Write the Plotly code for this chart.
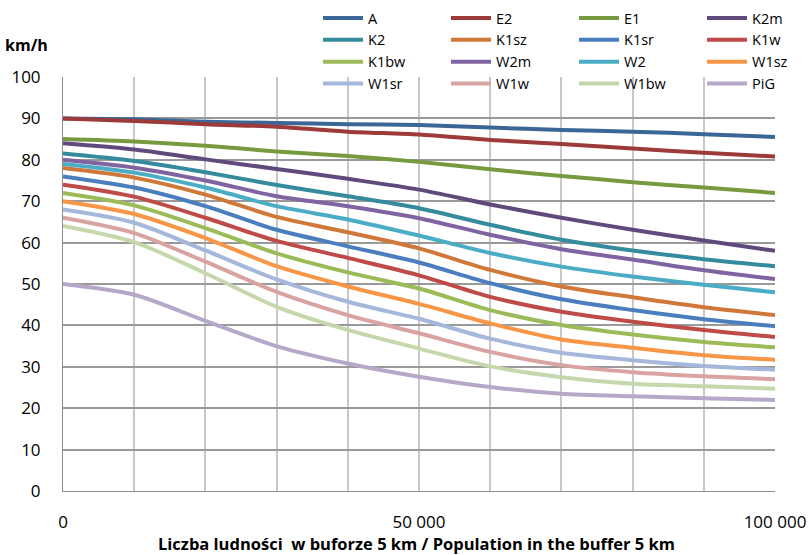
import plotly.graph_objects as go

x_vals = [0, 10000, 20000, 30000, 40000, 50000, 60000, 70000, 80000, 90000, 100000]

names = ["A", "E2", "E1", "K2m", "K2", "K1sz", "K1sr", "K1w",
         "K1bw", "W2m", "W2", "W1sz", "W1sr", "W1w", "W1bw", "PiG"]

A = [90, 89.8, 89.2, 88.9, 88.6, 88.4, 87.8, 87.2, 86.8, 86.2, 85.5]
E2 = [90, 89.4, 88.6, 88.0, 86.8, 86.1, 84.8, 83.8, 82.7, 81.7, 80.8]
E1 = [85, 84.4, 83.4, 82.0, 80.9, 79.5, 77.7, 76.1, 74.6, 73.3, 72.0]
K2m = [84, 82.5, 80.1, 77.8, 75.4, 72.8, 69.2, 66.0, 63.1, 60.5, 58.0]
K2 = [81.5, 79.7, 77.0, 73.9, 71.2, 68.3, 64.3, 60.7, 58.1, 56.0, 54.3]
K1sz = [78, 75.7, 71.6, 66.2, 62.5, 58.6, 53.4, 49.4, 46.8, 44.4, 42.5]
K1sr = [76, 73.3, 68.8, 63.1, 59.1, 55.2, 50.2, 46.3, 43.7, 41.5, 39.8]
K1w = [74, 71.1, 66.0, 60.4, 56.3, 52.1, 46.9, 43.3, 40.9, 38.9, 37.2]
K1bw = [72, 69.0, 63.5, 57.4, 52.8, 48.9, 43.7, 40.1, 37.8, 36.0, 34.7]
W2m = [80, 78.1, 75.0, 71.2, 68.8, 65.9, 61.9, 58.4, 55.9, 53.3, 51.2]
W2 = [79, 76.9, 73.3, 68.8, 65.6, 61.7, 57.5, 54.2, 51.8, 49.8, 48.0]
W1sz = [70, 66.9, 61.1, 54.3, 49.4, 45.2, 40.5, 36.6, 34.6, 32.8, 31.7]
W1sr = [68, 64.8, 58.1, 51.1, 45.7, 41.6, 36.8, 33.4, 31.6, 30.2, 29.3]
W1w = [66, 62.3, 55.4, 48.1, 42.5, 38.1, 33.6, 30.4, 28.7, 27.7, 27.0]
W1bw = [64, 60.1, 52.6, 44.5, 38.9, 34.4, 30.1, 27.5, 25.9, 25.3, 24.7]
PiG = [50, 47.4, 41.1, 35.0, 30.8, 27.6, 25.1, 23.5, 22.9, 22.4, 22.0]

series = [A, E2, E1, K2m, K2, K1sz, K1sr, K1w, K1bw, W2m, W2, W1sz, W1sr, W1w, W1bw, PiG]

colors = ["#3B6696", "#9C3B39", "#789A3E", "#604A7B", "#358B9E", "#D0783A",
          "#4A7EBE", "#BE4B48", "#9BBB59", "#8064A2", "#4BACC6", "#F79646",
          "#A5B7DA", "#D9A3A2", "#C4D8AB", "#B6A8C9"]

y_ticks = [0, 10, 20, 30, 40, 50, 60, 70, 80, 90, 100]
x_tick_vals = [0, 50000, 100000]
x_tick_text = ["0", "50 000", "100 000"]

FONT = "'Open Sans', Lato, sans-serif"
W, H = 809, 555

legend_ids = ["legend", "legend2", "legend3", "legend4"]

fig = go.Figure()
for i, (name, vals, col) in enumerate(zip(names, series, colors)):
    fig.add_trace(go.Scatter(
        x=x_vals, y=vals, name=name, mode="lines",
        legend=legend_ids[i % 4],
        line=dict(color=col, width=4, shape="spline", smoothing=0.8),
    ))

legend_common = dict(
    orientation="v",
    xref="container", yref="container",
    yanchor="middle", xanchor="left",
    font=dict(family=FONT, size=14.5, color="#000000"),
    bgcolor="rgba(0,0,0,0)",
    itemwidth=40,
    tracegroupgap=0,
)
legend_layout = {}
for k, lid in enumerate(legend_ids):
    legend_layout[lid] = dict(legend_common, x=(318 + 128 * k) / W, y=1 - 51 / H)

fig.update_layout(
    width=W, height=H,
    margin=dict(l=63, r=34, t=77, b=64, autoexpand=False),
    paper_bgcolor="white", plot_bgcolor="white",
    font=dict(family=FONT, size=16, color="#000000"),
    showlegend=True,
    xaxis=dict(
        range=[0, 100000],
        tickvals=x_tick_vals, ticktext=x_tick_text,
        showgrid=True, gridcolor="#C8C8C8", gridwidth=1.5,
        zeroline=False,
        showline=True, linecolor="#8C8C8C", linewidth=1,
        ticks="", ticklabelstandoff=16,
        tickfont=dict(family=FONT, size=17),
        minor=dict(dtick=10000, tick0=0, showgrid=True, gridcolor="#C8C8C8", gridwidth=1.5),
    ),
    yaxis=dict(
        range=[0, 100],
        tickvals=y_ticks,
        showgrid=True, gridcolor="#9A9A9A", gridwidth=1.5,
        zeroline=False,
        showline=True, linecolor="#8C8C8C", linewidth=1,
        ticks="", ticklabelstandoff=18,
        tickfont=dict(family=FONT, size=17),
    ),
    annotations=[
        dict(text="<b>km/h</b>", xref="paper", yref="paper", x=-0.018, y=1.077,
             xanchor="right", yanchor="middle", showarrow=False,
             font=dict(family=FONT, size=16)),
        dict(text="<b>Liczba ludności  w buforze 5 km / Population in the buffer 5 km</b>",
             xref="paper", yref="paper", x=0.497, y=-0.128,
             xanchor="center", yanchor="middle", showarrow=False,
             font=dict(family=FONT, size=16.5)),
    ],
    **legend_layout,
)

fig.write_html("out.html", config={"displayModeBar": False},
               post_script="document.body.style.margin='0';")
